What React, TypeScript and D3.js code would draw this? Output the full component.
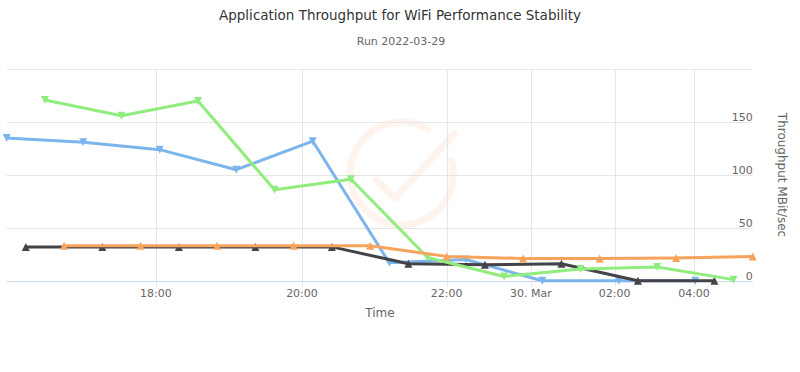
import React, { useEffect, useRef } from "react";
import * as d3 from "d3";

const CHART_TITLE = "Application Throughput for WiFi Performance Stability";
const CHART_SUBTITLE = "Run 2022-03-29";

// sample times of each client run (ordinal x axis, like a stock chart)
const BLUE_TIMES = ["2022-03-29 15:57", "2022-03-29 17:00", "2022-03-29 18:03", "2022-03-29 19:06", "2022-03-29 20:09", "2022-03-29 21:12", "2022-03-29 22:27", "2022-03-30 00:16", "2022-03-30 02:06", "2022-03-30 04:02"];
const BLACK_TIMES = ["2022-03-29 16:13", "2022-03-29 17:16", "2022-03-29 18:19", "2022-03-29 19:22", "2022-03-29 20:25", "2022-03-29 21:28", "2022-03-29 22:55", "2022-03-30 00:44", "2022-03-30 02:35", "2022-03-30 04:31"];
const GREEN_TIMES = ["2022-03-29 16:29", "2022-03-29 17:32", "2022-03-29 18:35", "2022-03-29 19:38", "2022-03-29 20:41", "2022-03-29 21:44", "2022-03-29 23:22", "2022-03-30 01:11", "2022-03-30 03:04", "2022-03-30 05:00"];
const ORANGE_TIMES = ["2022-03-29 16:44", "2022-03-29 17:48", "2022-03-29 18:51", "2022-03-29 19:53", "2022-03-29 20:56", "2022-03-29 22:00", "2022-03-29 23:49", "2022-03-30 01:39", "2022-03-30 03:33", "2022-03-30 05:29"];

// throughput in MBit/sec
const BLUE_VALUES = [135, 131, 124, 105, 132, 17, 20, 0, 0, 0];
const BLACK_VALUES = [32, 32, 32, 32, 32, 16, 15, 16, 0, 0];
const GREEN_VALUES = [171, 156, 170, 86, 96, 22, 4, 11, 13, 1];
const ORANGE_VALUES = [33, 33, 33, 33, 33, 23, 21, 21, 21.5, 23];

const X_TICKS = ["2022-03-29 18:00", "2022-03-29 20:00", "2022-03-29 22:00", "2022-03-30 00:00", "2022-03-30 02:00", "2022-03-30 04:00"];
const X_TICK_LABELS = ["18:00", "20:00", "22:00", "30. Mar", "02:00", "04:00"];
const Y_TICKS = [0, 50, 100, 150, 200];
const Y_TICK_LABELS = ["0", "50", "100", "150", ""];

const W = 800;
const H = 372;
const FONT = '"DejaVu Sans", sans-serif';

const parse = d3.timeParse("%Y-%m-%d %H:%M");

const App = () => {
	const svgRef = useRef(null);

	useEffect(() => {
		const svg = d3.select(svgRef.current);
		svg.selectAll("*").remove();

		const series = [
			{ name: "blue", color: "#7cb5ec", times: BLUE_TIMES, values: BLUE_VALUES, symbol: "down" },
			{ name: "black", color: "#434348", times: BLACK_TIMES, values: BLACK_VALUES, symbol: "up" },
			{ name: "green", color: "#90ed7d", times: GREEN_TIMES, values: GREEN_VALUES, symbol: "down" },
			{ name: "orange", color: "#f7a35c", times: ORANGE_TIMES, values: ORANGE_VALUES, symbol: "up" },
		];

		// ordinal axis: every timestamp gets an equal slot
		const allTimes = series
			.flatMap((s) => s.times.map((t) => parse(t).getTime()))
			.sort((a, b) => a - b);
		const left = 6.7;
		const right = 752.7;
		const top = 69.3;
		const bottom = 280.7;

		const idxScale = d3.scaleLinear().domain([0, allTimes.length - 1]).range([left, right]);
		const ordinalIndex = (t) => {
			const i = d3.bisectLeft(allTimes, t);
			if (i <= 0) return 0;
			if (i >= allTimes.length) return allTimes.length - 1;
			const t0 = allTimes[i - 1];
			const t1 = allTimes[i];
			return i - 1 + (t - t0) / (t1 - t0);
		};
		const x = (t) => idxScale(ordinalIndex(t));
		const y = d3.scaleLinear().domain([0, 200]).range([bottom, top]);

		// title
		svg.append("text")
			.attr("x", W / 2)
			.attr("y", 20)
			.attr("text-anchor", "middle")
			.style("font-family", FONT)
			.style("font-size", "13.5px")
			.style("fill", "#333333")
			.text(CHART_TITLE);
		svg.append("text")
			.attr("x", W / 2 + 1)
			.attr("y", 45)
			.attr("text-anchor", "middle")
			.style("font-family", FONT)
			.style("font-size", "11px")
			.style("fill", "#666666")
			.text(CHART_SUBTITLE);

		// watermark
		const wm = svg.append("g").attr("transform", "translate(401.7,173.3)")
			.style("fill", "none").style("stroke", "#fef4ed").style("stroke-width", 7)
			.style("stroke-linecap", "round").style("stroke-linejoin", "round");
		wm.append("path").attr("d", d3.arc()({ innerRadius: 51.5, outerRadius: 51.5, startAngle: Math.PI * 0.42, endAngle: Math.PI * 2.17 }));
		wm.append("path").attr("d", "M-25,7 L-7,25 L53,-40");

		// grid
		svg.append("g").selectAll("line")
			.data(X_TICKS)
			.enter()
			.append("line")
			.attr("x1", (d) => Math.round(x(parse(d).getTime())) + 0.5)
			.attr("x2", (d) => Math.round(x(parse(d).getTime())) + 0.5)
			.attr("y1", top)
			.attr("y2", bottom + 6)
			.style("stroke", "#e6e6e6");
		svg.append("g").selectAll("line")
			.data(Y_TICKS.slice(1))
			.enter()
			.append("line")
			.attr("x1", left)
			.attr("x2", right)
			.attr("y1", (d) => Math.round(y(d)) + 0.5)
			.attr("y2", (d) => Math.round(y(d)) + 0.5)
			.style("stroke", "#e6e6e6");
		svg.append("line")
			.attr("x1", left)
			.attr("x2", right)
			.attr("y1", Math.round(bottom) + 0.5)
			.attr("y2", Math.round(bottom) + 0.5)
			.style("stroke", "#ccd6eb");

		// axis labels
		svg.append("g").selectAll("text")
			.data(X_TICKS)
			.enter()
			.append("text")
			.attr("x", (d) => x(parse(d).getTime()))
			.attr("y", 297)
			.attr("text-anchor", "middle")
			.style("font-family", FONT)
			.style("font-size", "11px")
			.style("fill", "#666666")
			.text((d, i) => X_TICK_LABELS[i]);
		svg.append("g").selectAll("text")
			.data(Y_TICKS)
			.enter()
			.append("text")
			.attr("x", right)
			.attr("y", (d) => y(d) - 1)
			.attr("text-anchor", "end")
			.style("font-family", FONT)
			.style("font-size", "11px")
			.style("fill", "#666666")
			.text((d, i) => Y_TICK_LABELS[i]);
		svg.append("text")
			.attr("x", 380)
			.attr("y", 317)
			.attr("text-anchor", "middle")
			.style("font-family", FONT)
			.style("font-size", "12px")
			.style("fill", "#666666")
			.text("Time");
		svg.append("text")
			.attr("transform", `translate(778,${(top + bottom) / 2}) rotate(90)`)
			.attr("text-anchor", "middle")
			.style("font-family", FONT)
			.style("font-size", "12px")
			.style("fill", "#666666")
			.text("Throughput MBit/sec");

		// series
		const line = d3.line()
			.x((d) => x(d.t))
			.y((d) => y(d.v));
		series.forEach((s) => {
			const pts = s.times.map((t, i) => ({ t: parse(t).getTime(), v: s.values[i] }));
			const g = svg.append("g");
			g.append("path")
				.datum(pts)
				.attr("d", line)
				.style("fill", "none")
				.style("stroke", s.color)
				.style("stroke-width", 3)
				.style("stroke-linejoin", "round")
				.style("stroke-linecap", "round");
			g.selectAll("path.marker")
				.data(pts)
				.enter()
				.append("path")
				.classed("marker", true)
				.attr("transform", (d) => `translate(${x(d.t)},${y(d.v)})`)
				.attr("d", s.symbol === "up" ? "M0,-4 L4,4 L-4,4 Z" : "M-4,-4 L4,-4 L0,4 Z")
				.style("fill", s.color);
		});
	}, []);

	return (
		<svg
			ref={svgRef}
			width={W}
			height={H}
			style={{ position: "absolute", left: 0, top: 0, background: "#ffffff" }}
		/>
	);
};

export default App;
